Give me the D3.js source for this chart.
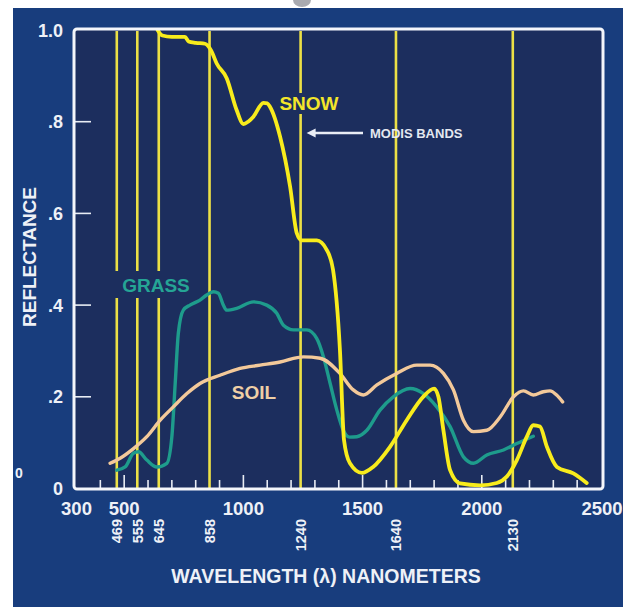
<!DOCTYPE html>
<html>
<head>
<meta charset="utf-8">
<script src="https://cdn.jsdelivr.net/npm/d3@7"></script>
<style>
  html, body { margin: 0; padding: 0; background: #ffffff; }
  svg { display: block; }
  text { font-family: 'Liberation Sans', Arial, Helvetica, sans-serif; font-weight: bold; }
</style>
</head>
<body>
<div id="chart"></div>
<script>
const wavelengthTicks = [300, 500, 1000, 1500, 2000, 2500];
const minorTicks = [400, 600, 700, 800, 900, 1100, 1200, 1300, 1400, 1600, 1700, 1800, 1900, 2100, 2200, 2300, 2400];
const reflectanceTicks = [0, 0.2, 0.4, 0.6, 0.8, 1.0];
const reflectanceLabels = ['0', '.2', '.4', '.6', '.8', '1.0'];
const modisBands = [469, 555, 645, 858, 1240, 1640, 2130];

const snowWavelength = [640, 660, 700, 755, 770, 800, 839, 865, 888, 930, 972, 1000, 1020, 1042, 1084, 1100, 1112, 1154, 1196, 1224, 1245, 1308, 1350, 1376, 1405, 1422, 1447, 1497, 1544, 1615, 1685, 1754, 1800, 1818, 1839, 1867, 1909, 1993, 2063, 2105, 2147, 2189, 2216, 2244, 2273, 2315, 2384, 2440];
const snowReflectance = [1.0, 0.988, 0.985, 0.985, 0.975, 0.972, 0.97, 0.955, 0.927, 0.895, 0.825, 0.795, 0.8, 0.811, 0.841, 0.84, 0.832, 0.767, 0.658, 0.557, 0.541, 0.541, 0.52, 0.477, 0.302, 0.106, 0.055, 0.034, 0.047, 0.091, 0.149, 0.2, 0.218, 0.2, 0.127, 0.04, 0.011, 0.007, 0.012, 0.026, 0.062, 0.113, 0.138, 0.135, 0.091, 0.047, 0.033, 0.012];

const grassWavelength = [469, 504, 539, 560, 595, 637, 679, 700, 714, 727, 748, 776, 818, 846, 874, 895, 916, 930, 972, 1042, 1098, 1140, 1168, 1210, 1266, 1308, 1336, 1364, 1392, 1419, 1445, 1476, 1518, 1573, 1629, 1699, 1755, 1811, 1867, 1923, 1965, 2021, 2091, 2147, 2216];
const grassReflectance = [0.04, 0.047, 0.077, 0.08, 0.062, 0.047, 0.055, 0.113, 0.229, 0.338, 0.389, 0.4, 0.411, 0.422, 0.429, 0.426, 0.4, 0.389, 0.393, 0.407, 0.4, 0.382, 0.356, 0.346, 0.346, 0.327, 0.287, 0.229, 0.171, 0.127, 0.112, 0.113, 0.127, 0.171, 0.2, 0.218, 0.207, 0.178, 0.135, 0.069, 0.055, 0.073, 0.084, 0.098, 0.114];

const soilWavelength = [441, 483, 539, 595, 651, 706, 763, 818, 902, 986, 1070, 1154, 1252, 1322, 1405, 1461, 1503, 1560, 1643, 1727, 1783, 1839, 1881, 1923, 1965, 2021, 2077, 2133, 2175, 2216, 2258, 2286, 2314, 2339];
const soilReflectance = [0.055, 0.066, 0.087, 0.113, 0.149, 0.178, 0.207, 0.229, 0.247, 0.262, 0.269, 0.276, 0.287, 0.284, 0.251, 0.215, 0.204, 0.226, 0.251, 0.269, 0.269, 0.251, 0.215, 0.149, 0.124, 0.127, 0.156, 0.2, 0.213, 0.204, 0.211, 0.213, 0.204, 0.189];

const W = 623, H = 607;
const frame = { left: 74, right: 603, top: 29, bottom: 489 };

const svg = d3.select('#chart')
  .append('svg')
  .attr('width', W)
  .attr('height', H);

// outer blue panel
svg.append('rect')
  .attr('x', 13).attr('y', 8)
  .attr('width', W - 13).attr('height', H - 8)
  .attr('fill', '#183d7d');

svg.append('ellipse')
  .attr('cx', 302).attr('cy', 0)
  .attr('rx', 9).attr('ry', 7)
  .attr('fill', '#a9aab0');

svg.append('rect')
  .attr('x', frame.left).attr('y', frame.top)
  .attr('width', frame.right - frame.left)
  .attr('height', frame.bottom - frame.top)
  .attr('fill', '#1c2e5e');

const x = d3.scaleLinear()
  .domain([300, 2500])
  .range([76.5, 601]);

const y = d3.scaleLinear()
  .domain([0, 1])
  .range([488.5, 30]);

// MODIS band lines
svg.append('g')
  .selectAll('line')
  .data(modisBands)
  .enter()
  .append('line')
  .attr('x1', d => x(d)).attr('x2', d => x(d))
  .attr('y1', frame.top + 2).attr('y2', frame.bottom)
  .attr('stroke', '#ece046')
  .attr('stroke-width', 2.6);

// gaps behind curve labels
const labelGaps = [
  { x0: 110, x1: 198, y0: 271, y1: 298 },
  { x0: 276, x1: 343, y0: 93, y1: 114 }
];
svg.append('g')
  .selectAll('rect')
  .data(labelGaps)
  .enter()
  .append('rect')
  .attr('x', d => d.x0).attr('y', d => d.y0)
  .attr('width', d => d.x1 - d.x0).attr('height', d => d.y1 - d.y0)
  .attr('fill', '#1c2e5e');

// ticks
svg.append('g')
  .selectAll('line')
  .data(minorTicks)
  .enter()
  .append('line')
  .attr('x1', d => x(d)).attr('x2', d => x(d))
  .attr('y1', frame.bottom - 9).attr('y2', frame.bottom)
  .attr('stroke', '#e8ecf4')
  .attr('stroke-width', 1.6);

svg.append('g')
  .selectAll('line')
  .data(wavelengthTicks.slice(1, -1))
  .enter()
  .append('line')
  .attr('x1', d => x(d)).attr('x2', d => x(d))
  .attr('y1', frame.bottom - 14).attr('y2', frame.bottom)
  .attr('stroke', '#e8ecf4')
  .attr('stroke-width', 1.6);

svg.append('g')
  .selectAll('line')
  .data(reflectanceTicks.slice(1, -1))
  .enter()
  .append('line')
  .attr('x1', frame.left).attr('x2', frame.left + 17)
  .attr('y1', d => y(d)).attr('y2', d => y(d))
  .attr('stroke', '#e8ecf4')
  .attr('stroke-width', 1.6);

const makeLine = (xs) => d3.line()
  .x((d, i) => x(xs[i]))
  .y(d => y(d))
  .curve(d3.curveMonotoneX);

const series = [
  { name: 'grass', xs: grassWavelength, ys: grassReflectance, color: '#1e9c8c', width: 3.4 },
  { name: 'soil', xs: soilWavelength, ys: soilReflectance, color: '#f3c99a', width: 3.4 },
  { name: 'snow', xs: snowWavelength, ys: snowReflectance, color: '#f8ec1c', width: 3.8 }
];

series.forEach(s => {
  svg.append('path')
    .datum(s.ys)
    .attr('d', makeLine(s.xs))
    .attr('fill', 'none')
    .attr('stroke', s.color)
    .attr('stroke-width', s.width)
    .attr('stroke-linejoin', 'round')
    .attr('stroke-linecap', 'round');
});

// frame
svg.append('rect')
  .attr('x', frame.left).attr('y', frame.top)
  .attr('width', frame.right - frame.left)
  .attr('height', frame.bottom - frame.top)
  .attr('rx', 3)
  .attr('fill', 'none')
  .attr('stroke', '#f4f6fb')
  .attr('stroke-width', 3);

// curve labels
svg.append('text')
  .attr('x', 156).attr('y', 292)
  .attr('text-anchor', 'middle')
  .attr('font-size', 19)
  .attr('fill', '#25a595')
  .text('GRASS');

svg.append('text')
  .attr('x', 254).attr('y', 399)
  .attr('text-anchor', 'middle')
  .attr('font-size', 19)
  .attr('fill', '#efcfa6')
  .text('SOIL');

svg.append('text')
  .attr('x', 309).attr('y', 110)
  .attr('text-anchor', 'middle')
  .attr('font-size', 19)
  .attr('fill', '#f3e62a')
  .text('SNOW');

// MODIS BANDS arrow
svg.append('line')
  .attr('x1', x(1240) + 13).attr('x2', 363)
  .attr('y1', 133).attr('y2', 133)
  .attr('stroke', '#e9edf5')
  .attr('stroke-width', 2.4);
svg.append('path')
  .attr('d', `M${x(1240) + 6},133 L${x(1240) + 15},128.5 L${x(1240) + 15},137.5 Z`)
  .attr('fill', '#e9edf5');
svg.append('text')
  .attr('x', 370).attr('y', 137.5)
  .attr('font-size', 13)
  .attr('fill', '#e4e8f0')
  .text('MODIS BANDS');

// axis labels
svg.append('g')
  .selectAll('text')
  .data(reflectanceTicks)
  .enter()
  .append('text')
  .attr('x', 63)
  .attr('y', d => y(d) + 6.5)
  .attr('text-anchor', 'end')
  .attr('font-size', 18)
  .attr('fill', '#eef1f7')
  .text((d, i) => reflectanceLabels[i]);

svg.append('text')
  .attr('x', 19).attr('y', 478)
  .attr('text-anchor', 'middle')
  .attr('font-size', 14)
  .attr('fill', '#eef1f7')
  .text('0');

svg.append('g')
  .selectAll('text')
  .data(wavelengthTicks)
  .enter()
  .append('text')
  .attr('x', d => d === 2500 ? x(d) + 1 : x(d))
  .attr('y', 515)
  .attr('text-anchor', 'middle')
  .attr('font-size', 18.5)
  .attr('fill', '#eef1f7')
  .text(d => d);

svg.append('g')
  .selectAll('text')
  .data(modisBands)
  .enter()
  .append('text')
  .attr('transform', d => `translate(${x(d) + 5.5},${519}) rotate(-90)`)
  .attr('text-anchor', 'end')
  .attr('font-size', 14.5)
  .attr('fill', '#eef1f7')
  .text(d => d);

svg.append('text')
  .attr('x', 326).attr('y', 583)
  .attr('text-anchor', 'middle')
  .attr('font-size', 19.5)
  .attr('fill', '#eef1f7')
  .text('WAVELENGTH (\u03bb) NANOMETERS');

svg.append('text')
  .attr('transform', 'translate(36,257) rotate(-90)')
  .attr('text-anchor', 'middle')
  .attr('font-size', 19)
  .attr('fill', '#eef1f7')
  .text('REFLECTANCE');
</script>
</body>
</html>
